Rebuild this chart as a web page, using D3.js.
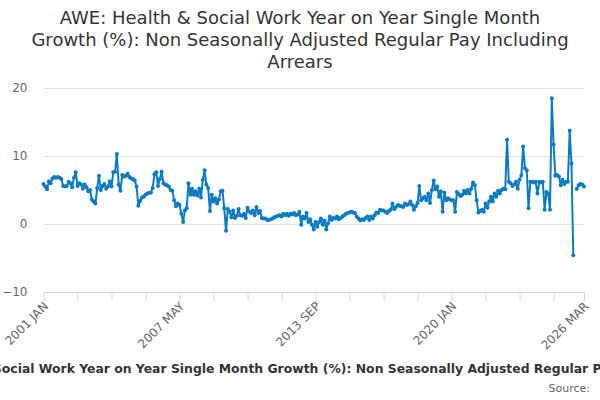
<!DOCTYPE html>
<html>
<head>
<meta charset="utf-8">
<script src="https://cdn.jsdelivr.net/npm/d3@7"></script>
<style>
	body { margin: 0; background: #fff; }
	svg { display: block; font-family: "DejaVu Sans", sans-serif; }
</style>
</head>
<body>
<div id="chart"></div>
<script>

var title = ["AWE: Health & Social Work Year on Year Single Month",
	"Growth (%): Non Seasonally Adjusted Regular Pay Including",
	"Arrears"];
var axisTitle = "AWE: Health & Social Work Year on Year Single Month Growth (%): Non Seasonally Adjusted Regular Pay Including Arrears";

var startYear = 2001;
var monthNames = ["JAN", "FEB", "MAR", "APR", "MAY", "JUN", "JUL", "AUG", "SEP", "OCT", "NOV", "DEC"];

// one value per month, 2001 JAN .. 2026 MAR (null = no data)
var growth = [
	5.9, 5.5, 5.1, 6.3, 6.0, 6.7, 6.9, 6.8, 6.9, 6.8, 6.6, 5.6,   // 2001
	5.5, 5.6, 6.2, 6.0, 5.4, 6.8, 7.6, 5.6, 6.0, 5.8, 5.2, 5.8,   // 2002
	5.4, 4.8, 5.0, 3.6, 3.3, 3.0, 5.3, 7.1, 5.0, 5.6, 5.9, 5.2,   // 2003
	5.5, 6.3, 5.5, 7.6, 7.7, 10.3, 5.8, 4.9, 7.2, 7.0, 7.1, 7.4,  // 2004
	6.9, 6.7, 6.6, 6.4, 5.5, 2.7, 3.4, 3.9, 4.0, 4.3, 4.5, 4.6,   // 2005
	4.6, 5.3, 7.3, 7.6, 5.6, 6.6, 7.7, 6.0, 5.8, 5.7, 5.5, 5.0,   // 2006
	4.9, 3.5, 2.6, 3.0, 2.8, 1.5, 0.3, 2.0, 2.3, 6.0, 4.3, 5.2,   // 2007
	4.3, 4.8, 4.2, 5.2, 3.9, 6.5, 7.9, 5.8, 5.3, 1.9, 4.3, 3.3,   // 2008
	3.8, 3.0, 3.6, 4.8, 4.9, 2.3, -1.0, 2.2, 1.8, 1.0, 2.0, 0.9,  // 2009
	1.2, 2.2, 1.3, 1.2, 1.5, 0.9, 2.4, 1.8, 1.6, 2.0, 1.3, 2.5,   // 2010
	1.6, 1.9, 0.9, 0.8, 0.8, 0.6, 0.6, 0.7, 0.8, 1.0, 1.1, 1.2,   // 2011
	1.3, 1.1, 1.5, 1.3, 1.5, 1.2, 1.5, 1.4, 1.6, 1.3, 1.4, 1.8,   // 2012
	-0.1, 1.1, 0.8, 1.6, 0.3, 0.7, -0.1, -0.8, 0.3, -0.4, 0.3, 0.8, // 2013
	-0.1, 0.5, -0.8, 0.1, 1.1, 0.6, 0.9, 0.8, 1.1, 0.7, 0.9, 1.1, // 2014
	1.3, 1.5, 1.6, 1.7, 1.8, 1.7, 1.6, 1.1, 0.8, 0.5, 0.7, 0.6,   // 2015
	0.9, 1.1, 0.6, 1.1, 0.8, 1.3, 1.7, 1.6, 2.1, 2.0, 2.0, 1.8,   // 2016
	1.6, 1.9, 2.1, 3.0, 2.2, 2.5, 2.8, 2.7, 2.6, 2.5, 3.0, 2.8,   // 2017
	2.9, 3.3, 2.8, 2.1, 2.6, 3.1, 5.6, 3.5, 3.8, 4.0, 3.5, 4.5,   // 2018
	3.1, 5.0, 6.4, 5.1, 5.5, 4.0, 4.8, 1.8, 4.6, 3.5, 3.8, 3.6,   // 2019
	3.5, 3.5, 1.8, 4.7, 4.4, 4.1, 4.3, 4.9, 4.5, 5.0, 4.5, 5.2,   // 2020
	6.1, 5.7, 3.5, 1.7, 1.9, 2.1, 1.8, 3.0, 2.4, 3.3, 4.0, 3.3,   // 2021
	4.5, 4.0, 4.9, 4.5, 5.0, 5.2, 5.1, 12.4, 6.2, 6.0, 5.6, 5.8,  // 2022
	6.2, 5.2, 6.5, 7.2, 11.4, 8.2, 7.9, 2.3, 6.2, 6.2, 6.1, 6.2,  // 2023
	4.5, 6.2, 6.1, 6.2, 2.1, 4.7, 4.5, 2.1, 18.5, 11.7, 7.1, 7.2, // 2024
	7.0, 5.7, 6.5, 5.9, 6.2, 6.2, 13.7, 8.9, -4.6, null, 5.2, 5.7, // 2025
	5.9, 5.8, 5.5                                                 // 2026
];

var yTicks = [-10, 0, 10, 20];
var tickStep = 19;   // months between x ticks
var labelStep = 76;  // months between x labels

var labels = growth.map(function(d, i) {
	return (startYear + Math.floor(i / 12)) + " " + monthNames[i % 12];
});

var width = 600, height = 400;
var plotLeft = 43.5, plotRight = 584, plotTop = 88, plotBottom = 292;
var lineColor = "#0a7bc4";

var svg = d3.select("#chart").append("svg")
	.attr("width", width)
	.attr("height", height);

var x = d3.scaleLinear()
	.domain([0, growth.length - 1])
	.range([plotLeft, plotRight]);

var y = d3.scaleLinear()
	.domain([-10, 20])
	.range([plotBottom, plotTop]);

// title
svg.append("text")
	.attr("x", 300)
	.attr("y", 24)
	.attr("text-anchor", "middle")
	.attr("font-size", 18)
	.attr("fill", "#333")
	.selectAll("tspan")
	.data(title)
	.enter().append("tspan")
	.attr("x", 300)
	.attr("dy", function(d, i) { return i == 0 ? 0 : 22; })
	.text(function(d) { return d; });

// grid + y labels
var yAxis = d3.axisLeft(y)
	.tickValues(yTicks)
	.tickSize(-(plotRight - plotLeft))
	.tickPadding(16);

var gy = svg.append("g")
	.attr("transform", "translate(" + plotLeft + ",0)")
	.call(yAxis);
gy.select(".domain").remove();
gy.selectAll(".tick line")
	.attr("stroke", "#e6e6e6");
gy.selectAll(".tick")
	.filter(function(d) { return d == -10; })
	.select("line").remove();
gy.selectAll(".tick text")
	.attr("font-family", "DejaVu Sans, sans-serif")
	.attr("font-size", 12)
	.attr("fill", "#666");

// x axis
var xTicks = d3.range(0, growth.length, tickStep);
xTicks.push(growth.length - 1);

var xAxis = d3.axisBottom(x)
	.tickValues(xTicks)
	.tickSize(9)
	.tickSizeOuter(0)
	.tickFormat(function(d) {
		return (d % labelStep == 0 || d == growth.length - 1) ? labels[d] : "";
	});

var gx = svg.append("g")
	.attr("transform", "translate(0," + plotBottom + ")")
	.call(xAxis);
gx.select(".domain")
	.attr("stroke", "#ccd6eb");
gx.selectAll(".tick line")
	.attr("stroke", "#ccd6eb");
gx.selectAll(".tick text")
	.attr("font-family", "DejaVu Sans, sans-serif")
	.attr("font-size", 12)
	.attr("fill", "#666")
	.attr("text-anchor", "end")
	.attr("y", 0)
	.attr("dy", 0)
	.attr("transform", "translate(5,15) rotate(-45)");

// series
var line = d3.line()
	.defined(function(d) { return d != null; })
	.x(function(d, i) { return x(i); })
	.y(function(d) { return y(d); });

svg.append("path")
	.datum(growth)
	.attr("fill", "none")
	.attr("stroke", lineColor)
	.attr("stroke-width", 2)
	.attr("stroke-linejoin", "round")
	.attr("d", line);

svg.append("g").selectAll("circle")
	.data(growth.map(function(d, i) { return [i, d]; }).filter(function(p) { return p[1] != null; }))
	.enter().append("circle")
	.attr("cx", function(p) { return x(p[0]); })
	.attr("cy", function(p) { return y(p[1]); })
	.attr("r", 2)
	.attr("fill", lineColor);

// axis title (wider than the chart, clipped like the original)
svg.append("text")
	.attr("x", (plotLeft + plotRight) / 2 + 1)
	.attr("y", 373)
	.attr("text-anchor", "middle")
	.attr("font-size", 12.4)
	.attr("font-weight", "bold")
	.attr("fill", "#333")
	.text(axisTitle);

svg.append("text")
	.attr("x", 590)
	.attr("y", 392)
	.attr("text-anchor", "end")
	.attr("font-size", 11)
	.attr("fill", "#666")
	.text("Source:");

</script>
</body>
</html>
